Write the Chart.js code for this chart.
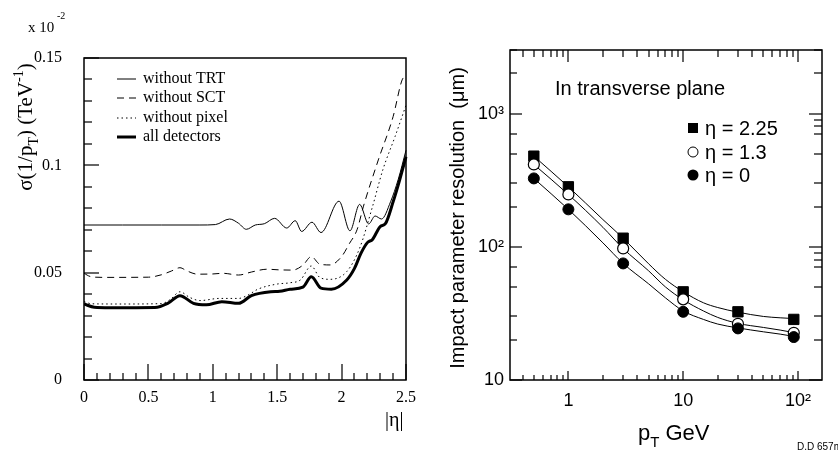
<!DOCTYPE html>
<html>
<head>
<meta charset="utf-8">
<script src="https://cdn.jsdelivr.net/npm/chart.js@4.4.1/dist/chart.umd.min.js"></script>
<style>
  html, body { margin: 0; padding: 0; background: #fff; }
  canvas { display: block; }
</style>
</head>
<body>
<canvas id="fig" width="838" height="452"></canvas>
<script>
// ---- left panel: sigma(1/pT) against |eta| (units of 1e-2 TeV^-1) ----
const etaNoTRT = [0, 0.3, 0.6, 0.9, 1.02, 1.13, 1.2, 1.26, 1.33, 1.4, 1.48, 1.574, 1.64, 1.69, 1.77, 1.84, 1.98, 2.065, 2.14, 2.21, 2.26, 2.31, 2.38, 2.44, 2.5];
const sigNoTRT = [0.0722, 0.0722, 0.0722, 0.0722, 0.0724, 0.0750, 0.0730, 0.0702, 0.0722, 0.0728, 0.0753, 0.0708, 0.0742, 0.0692, 0.0735, 0.0687, 0.0833, 0.0695, 0.0818, 0.0727, 0.0764, 0.0750, 0.0830, 0.0935, 0.1070];

const etaNoSCT = [0, 0.05, 0.15, 0.5, 0.6, 0.68, 0.745, 0.8, 0.88, 1.0, 1.08, 1.2, 1.3, 1.42, 1.52, 1.62, 1.7, 1.765, 1.83, 1.91, 2.0, 2.06, 2.12, 2.17, 2.285, 2.4, 2.47, 2.5];
const sigNoSCT = [0.0497, 0.0482, 0.0478, 0.0479, 0.0490, 0.0508, 0.0523, 0.0508, 0.0493, 0.0494, 0.0497, 0.0489, 0.0503, 0.0516, 0.0513, 0.0512, 0.0535, 0.0575, 0.0540, 0.0536, 0.0575, 0.0635, 0.0700, 0.0810, 0.1025, 0.1227, 0.1398, 0.1417];

const etaNoPix = [0, 0.06, 0.3, 0.6, 0.67, 0.745, 0.82, 0.9, 1.05, 1.2, 1.28, 1.35, 1.5, 1.6, 1.68, 1.765, 1.83, 1.91, 2.04, 2.14, 2.24, 2.32, 2.415, 2.5];
const sigNoPix = [0.0365, 0.0355, 0.0354, 0.0356, 0.0375, 0.0411, 0.0385, 0.0370, 0.0380, 0.0380, 0.0398, 0.0423, 0.0447, 0.0453, 0.0466, 0.0531, 0.0478, 0.0469, 0.0505, 0.0614, 0.0808, 0.0979, 0.1134, 0.1280];

const etaAll = [0, 0.08, 0.2, 0.55, 0.65, 0.745, 0.85, 0.95, 1.07, 1.2, 1.3, 1.45, 1.52, 1.6, 1.7, 1.765, 1.84, 1.92, 2.04, 2.1, 2.15, 2.2, 2.24, 2.3, 2.34, 2.4, 2.45, 2.5];
const sigAll = [0.0354, 0.0339, 0.0337, 0.0338, 0.0357, 0.0393, 0.0357, 0.0350, 0.0365, 0.0357, 0.0393, 0.0411, 0.0413, 0.0423, 0.0433, 0.0481, 0.0428, 0.0423, 0.0466, 0.0520, 0.0590, 0.0640, 0.0655, 0.0715, 0.0728, 0.0830, 0.0930, 0.1040];

const leftNames = ['without TRT', 'without SCT', 'without pixel', 'all detectors'];
const etaRange = [0, 2.5];
const sigmaRange = [0, 0.15];
const etaLabels = [0, 0.5, 1, 1.5, 2, 2.5];
const sigmaLabels = [0, 0.05, 0.1, 0.15];

// ---- right panel: impact parameter resolution against pT ----
const ptPoints = [0.5, 1, 3, 10, 30, 92];
const ipEta225 = [479, 282, 116, 45.9, 32.5, 28.5];
const ipEta13 = [415, 247, 97.2, 40.3, 26.4, 22.6];
const ipEta0 = [326, 191, 75, 32.5, 24.4, 21.0];

const ptCurve = [0.5, 1, 2, 3, 5, 7, 10, 15, 20, 30, 50, 70, 100];
const fitEta225 = [479, 282, 160, 116, 74.5, 57, 46, 38, 35, 32.3, 30, 29.3, 28.8];
const fitEta13 = [415, 247, 140, 97, 66, 50, 40, 33, 29.5, 26.6, 24.8, 23.7, 22.4];
const fitEta0 = [326, 191, 107, 75, 52.7, 41.4, 33, 28.5, 26.3, 24.6, 23, 22.1, 21];

const rightNames = ['η = 2.25', 'η = 1.3', 'η = 0'];
const ptRange = [0.31, 162];
const ipRange = [10, 3000];
const ptLabels = [1, 10, 100];
const ptLabelText = ['1', '10', '10²'];
const ipLabels = [10, 100, 1000];
const ipLabelText = ['10', '10²', '10³'];

const SERIF = "'Liberation Serif', 'DejaVu Serif', serif";
const SANS = "'Liberation Sans', Arial, sans-serif";

// both panels share one chart area (84..822 x 50..380); each panel's axes are
// stretched so that its own frame lands where it belongs
const AREA = { left: 84, right: 822, top: 50, bottom: 380 };
const LEFT_BOX = { right: 406, top: 58 };
const RIGHT_BOX = { left: 510 };
const etaMax = etaRange[1] * (AREA.right - AREA.left) / (LEFT_BOX.right - AREA.left);
const sigmaMax = sigmaRange[1] * (AREA.bottom - AREA.top) / (AREA.bottom - LEFT_BOX.top);
const ptDecade = (AREA.right - RIGHT_BOX.left) / Math.log10(ptRange[1] / ptRange[0]);
const ptMin = ptRange[0] / Math.pow(10, (RIGHT_BOX.left - AREA.left) / ptDecade);

const pair = (xs, ys) => xs.map((x, i) => ({ x: x, y: ys[i] }));
const near = (a, b) => Math.abs(a - b) < 1e-9 * Math.max(1, Math.abs(b));
const isIn = (v, list) => list.some(l => near(v, l));
const decadeStep = v => v / Math.pow(10, Math.floor(Math.log10(v) + 1e-9));

// tick positions
const etaTicks = [];
for (let i = 0; i <= 25; i++) etaTicks.push(i / 10);
const sigmaTicks = [];
for (let i = 0; i <= 15; i++) sigmaTicks.push(i / 100);
const ptTicks = [];
[0.1, 1, 10, 100].forEach(d => { for (let k = 1; k <= 9; k++) { const v = k * d; if (v >= ptRange[0] && v <= ptRange[1]) ptTicks.push(v); } });
const ipTicks = [];
[10, 100, 1000].forEach(d => { for (let k = 1; k <= 9; k++) { const v = k * d; if (v <= ipRange[1]) ipTicks.push(v); } });
const ipLeftTicks = ipTicks.filter(v => !isIn(decadeStep(v), [4, 6, 8, 9]));
const ipRightTicks = ipTicks.filter(v => !isIn(decadeStep(v), [4, 6]));

// text with sub/superscript pieces: [text, 0 normal | 1 sub | 2 sup]
function richText(ctx, parts, x, y, size, family, rotate, align) {
  ctx.save();
  ctx.translate(x, y);
  if (rotate) ctx.rotate(rotate);
  const small = Math.round(size * 0.68);
  const widths = parts.map(([t, m]) => {
    ctx.font = (m ? small : size) + 'px ' + family;
    return ctx.measureText(t).width;
  });
  const total = widths.reduce((s, w) => s + w, 0);
  let cx = align === 'center' ? -total / 2 : 0;
  ctx.fillStyle = '#000';
  ctx.textAlign = 'left';
  ctx.textBaseline = 'alphabetic';
  parts.forEach(([t, m], i) => {
    ctx.font = (m ? small : size) + 'px ' + family;
    const dy = m === 1 ? size * 0.3 : (m === 2 ? -size * 0.45 : 0);
    ctx.fillText(t, cx, dy);
    cx += widths[i];
  });
  ctx.restore();
}

// inward tick marks along one edge of a panel frame
function tickMarks(ctx, box, scale, vals, majors, edge, longLen, shortLen) {
  ctx.fillStyle = '#000';
  vals.forEach(v => {
    const len = isIn(v, majors) ? longLen : shortLen;
    const p = Math.round(scale.getPixelForValue(v));
    if (edge === 'bottom') ctx.fillRect(p - 0.6, box.bottom - len, 1.2, len);
    if (edge === 'top') ctx.fillRect(p - 0.6, box.top, 1.2, len);
    if (edge === 'left') ctx.fillRect(box.left, p - 0.6, len, 1.2);
    if (edge === 'right') ctx.fillRect(box.right - len, p - 0.6, len, 1.2);
  });
}

function panelBox(xs, ys, xr, yr) {
  return {
    left: xs.getPixelForValue(xr[0]), right: xs.getPixelForValue(xr[1]),
    top: ys.getPixelForValue(yr[1]), bottom: ys.getPixelForValue(yr[0])
  };
}

const panels = {
  id: 'panels',
  // the right panel's axes sit at its own frame, not at the shared chart edge
  afterLayout(chart) {
    const s = chart.scales;
    const x0 = s.xR.getPixelForValue(ptRange[0]);
    s.yR.left = x0 - 60; s.yR.right = x0; s.yR.width = 60;
    const y0 = s.yR.getPixelForValue(ipRange[0]);
    s.xR.top = y0; s.xR.bottom = y0 + 72; s.xR.height = 72;
  },
  afterDraw(chart) {
    const ctx = chart.ctx, s = chart.scales;
    const lb = panelBox(s.xL, s.yL, etaRange, sigmaRange);
    const rb = panelBox(s.xR, s.yR, ptRange, ipRange);
    ctx.save();
    ctx.strokeStyle = '#000';
    ctx.lineWidth = 1.5;
    ctx.strokeRect(lb.left, lb.top, lb.right - lb.left, lb.bottom - lb.top);
    ctx.strokeRect(rb.left, rb.top, rb.right - rb.left, rb.bottom - rb.top);

    tickMarks(ctx, lb, s.xL, etaTicks, etaLabels, 'bottom', 16, 7);
    tickMarks(ctx, lb, s.yL, sigmaTicks, sigmaLabels, 'left', 15, 8);
    tickMarks(ctx, rb, s.xR, ptTicks, ptLabels, 'bottom', 9, 5);
    tickMarks(ctx, rb, s.xR, ptTicks, ptLabels, 'top', 12, 7);
    tickMarks(ctx, rb, s.yR, ipLeftTicks, ipLabels, 'left', 12, 7);
    tickMarks(ctx, rb, s.yR, ipRightTicks, ipLabels, 'right', 13, 8);

    // left legend: one line sample per curve
    const rows = [79, 98, 118, 137];
    chart.data.datasets.filter(ds => ds.xAxisID === 'xL').forEach((ds, i) => {
      ctx.beginPath();
      ctx.strokeStyle = '#000';
      ctx.setLineDash(ds.borderDash || []);
      ctx.lineWidth = ds.borderWidth;
      ctx.moveTo(117, rows[i]);
      ctx.lineTo(136, rows[i]);
      ctx.stroke();
      ctx.setLineDash([]);
      ctx.fillStyle = '#000';
      ctx.font = '16px ' + SERIF;
      ctx.textBaseline = 'middle';
      ctx.fillText(ds.label, 143, rows[i]);
    });

    richText(ctx, [['x 10', 0]], 28, 32, 15, SERIF);
    richText(ctx, [['-2', 0]], 57, 19, 10, SERIF);
    richText(ctx, [['σ(1/p', 0], ['T', 1], [') (TeV', 0], ['-1', 2], [')', 0]], 32, 127, 21, SERIF, -Math.PI / 2, 'center');
    richText(ctx, [['|η|', 0]], 385, 426, 20, SERIF);

    // right panel annotations and marker legend
    ctx.fillStyle = '#000';
    ctx.font = '20px ' + SANS;
    ctx.textBaseline = 'alphabetic';
    ctx.fillText('In transverse plane', 555, 95);

    const lx = 693, mrows = [128, 152, 175];
    ctx.strokeStyle = '#000';
    ctx.lineWidth = 1;
    ctx.fillRect(lx - 5, mrows[0] - 5, 10, 10);
    ctx.beginPath();
    ctx.arc(lx, mrows[1], 5, 0, Math.PI * 2);
    ctx.fillStyle = '#fff';
    ctx.fill();
    ctx.stroke();
    ctx.beginPath();
    ctx.arc(lx, mrows[2], 5.5, 0, Math.PI * 2);
    ctx.fillStyle = '#000';
    ctx.fill();
    ctx.font = '20px ' + SANS;
    ctx.textBaseline = 'middle';
    rightNames.forEach((t, i) => ctx.fillText(t, 705, mrows[i] + 1));

    richText(ctx, [['Impact parameter resolution  (μm)', 0]], 464, 218, 20, SANS, -Math.PI / 2, 'center');
    richText(ctx, [['p', 0], ['T', 1], [' GeV', 0]], 638, 440, 22, SANS);
    richText(ctx, [['D.D 657m', 0]], 797, 450, 10, SANS);
    ctx.restore();
  }
};

const hiddenAxis = { grid: { display: false, drawTicks: false }, border: { display: false } };
const curve = (label, xs, ys, extra) => Object.assign({ label: label, data: pair(xs, ys), xAxisID: 'xL', yAxisID: 'yL', borderColor: '#000', borderWidth: 1, pointRadius: 0, cubicInterpolationMode: 'monotone' }, extra || {});
const fit = ys => ({ data: pair(ptCurve, ys), xAxisID: 'xR', yAxisID: 'yR', borderColor: '#000', borderWidth: 1, pointRadius: 0, cubicInterpolationMode: 'monotone' });
const markers = (label, ys, style, radius, fill, width) => ({ label: label, data: pair(ptPoints, ys), xAxisID: 'xR', yAxisID: 'yR', showLine: false, pointStyle: style, pointRadius: radius, backgroundColor: fill, borderColor: '#000', borderWidth: width });

new Chart(document.getElementById('fig'), {
  type: 'line',
  data: {
    datasets: [
      markers(rightNames[2], ipEta0, 'circle', 5.5, '#000', 1),
      markers(rightNames[1], ipEta13, 'circle', 5.5, '#fff', 1.2),
      markers(rightNames[0], ipEta225, 'rect', 7.3, '#000', 1),
      fit(fitEta0),
      fit(fitEta13),
      fit(fitEta225),
      curve(leftNames[0], etaNoTRT, sigNoTRT),
      curve(leftNames[1], etaNoSCT, sigNoSCT, { borderDash: [7, 5] }),
      curve(leftNames[2], etaNoPix, sigNoPix, { borderDash: [1.5, 3] }),
      curve(leftNames[3], etaAll, sigAll, { borderWidth: 3 })
    ]
  },
  options: {
    responsive: false,
    devicePixelRatio: 1,
    animation: false,
    events: [],
    layout: { padding: { left: 0, right: 838 - AREA.right, top: AREA.top, bottom: 0 } },
    plugins: { legend: { display: false }, tooltip: { enabled: false } },
    scales: {
      xL: Object.assign({
        type: 'linear', position: 'bottom', min: etaRange[0], max: etaMax, weight: 1,
        afterBuildTicks: s => { s.ticks = etaTicks.map(v => ({ value: v })); },
        afterFit: s => { s.height = 452 - AREA.bottom; },
        ticks: {
          autoSkip: false, maxRotation: 0, padding: 8, color: '#000',
          font: { family: SERIF, size: 16 },
          callback: v => isIn(v, etaLabels) ? String(v) : ''
        }
      }, hiddenAxis),
      yL: Object.assign({
        type: 'linear', position: 'left', min: sigmaRange[0], max: sigmaMax, weight: 1,
        afterBuildTicks: s => { s.ticks = sigmaTicks.map(v => ({ value: v })); },
        afterFit: s => { s.width = AREA.left; },
        ticks: {
          autoSkip: false, padding: 22, color: '#000',
          font: { family: SERIF, size: 16 },
          callback: v => isIn(v, sigmaLabels) ? String(v) : ''
        }
      }, hiddenAxis),
      xR: Object.assign({
        type: 'logarithmic', position: 'bottom', min: ptMin, max: ptRange[1], weight: 2,
        afterBuildTicks: s => { s.ticks = ptTicks.map(v => ({ value: v })); },
        afterFit: s => { s.height = 0; },
        ticks: {
          autoSkip: false, maxRotation: 0, padding: 10, color: '#000',
          font: { family: SANS, size: 18 },
          callback: v => { const i = ptLabels.findIndex(l => near(v, l)); return i >= 0 ? ptLabelText[i] : ''; }
        }
      }, hiddenAxis),
      yR: Object.assign({
        type: 'logarithmic', position: 'left', min: ipRange[0], max: ipRange[1], weight: 2,
        afterBuildTicks: s => { s.ticks = ipTicks.map(v => ({ value: v })); },
        afterFit: s => { s.width = 0; },
        ticks: {
          autoSkip: false, padding: 6, color: '#000',
          font: { family: SANS, size: 18 },
          callback: v => { const i = ipLabels.findIndex(l => near(v, l)); return i >= 0 ? ipLabelText[i] : ''; }
        }
      }, hiddenAxis)
    }
  },
  plugins: [panels]
});
</script>
</body>
</html>
